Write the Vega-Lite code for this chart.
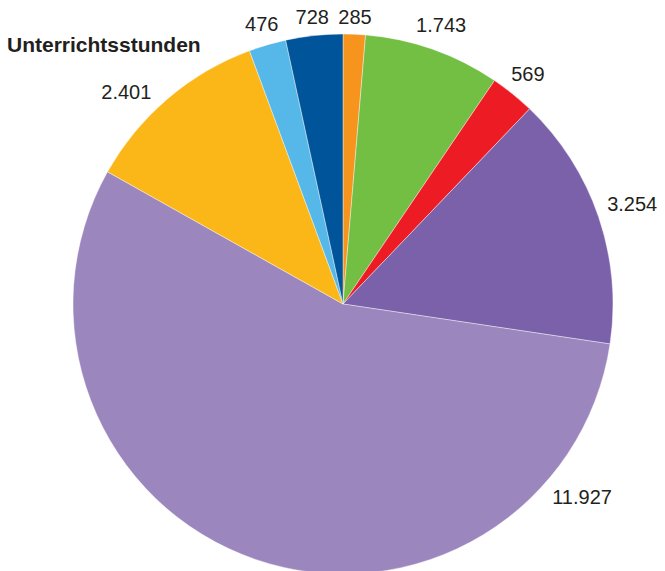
{
  "$schema": "https://vega.github.io/schema/vega-lite/v6.json",
  "autosize": "none",
  "width": 644,
  "height": 534,
  "padding": {"left": 21, "top": 37, "right": 0, "bottom": 0},
  "background": "white",
  "title": {
    "text": "Unterrichtsstunden",
    "anchor": "start",
    "frame": "group",
    "font": "Liberation Sans",
    "fontSize": 21,
    "fontWeight": "bold",
    "color": "#231f20",
    "dx": -14,
    "dy": 36,
    "offset": -12
  },
  "data": {
    "values": [
      {"nr": 1, "wert": 285},
      {"nr": 2, "wert": 1743},
      {"nr": 3, "wert": 569},
      {"nr": 4, "wert": 3254},
      {"nr": 5, "wert": 11927},
      {"nr": 6, "wert": 2401},
      {"nr": 7, "wert": 476},
      {"nr": 8, "wert": 728}
    ]
  },
  "layer": [
    {
      "mark": {"type": "arc", "outerRadius": 270, "stroke": "white", "strokeWidth": 0.4},
      "encoding": {
        "theta": {"field": "wert", "type": "quantitative", "stack": true, "scale": {"domain": [0, 21383]}},
        "order": {"field": "nr", "type": "quantitative"},
        "color": {
          "field": "nr",
          "type": "nominal",
          "legend": null,
          "scale": {
            "domain": [1, 2, 3, 4, 5, 6, 7, 8],
            "range": ["#F7941D", "#72BF44", "#ED1C24", "#7A61AA", "#9C86BE", "#FBB618", "#55B8E8", "#00559A"]
          }
        }
      }
    },
    {
      "transform": [
        {"window": [{"op": "sum", "field": "wert", "as": "ende"}], "sort": [{"field": "nr"}]},
        {"calculate": "datum.wert > 10000 ? datum.ende - 0.848 * datum.wert : datum.nr == 6 ? datum.ende - 0.63 * datum.wert : datum.ende - datum.wert / 2", "as": "labelTheta"},
        {"calculate": "replace(format(datum.wert, ','), ',', '.')", "as": "label"},
        {"calculate": "datum.labelTheta / 21383 * 2 * PI", "as": "ang"},
        {"calculate": "278 + 5.3 * length(datum.label) * abs(sin(datum.ang)) + 8 * abs(cos(datum.ang))", "as": "labelR"}
      ],
      "mark": {"type": "text", "font": "Liberation Sans", "fontSize": 20, "color": "#231f20"},
      "encoding": {
        "theta": {"field": "labelTheta", "type": "quantitative", "scale": {"domain": [0, 21383]}},
        "radius": {"field": "labelR", "type": "quantitative", "scale": null},
        "text": {"field": "label", "type": "nominal"}
      }
    }
  ],
  "config": {"view": {"stroke": null}}
}
